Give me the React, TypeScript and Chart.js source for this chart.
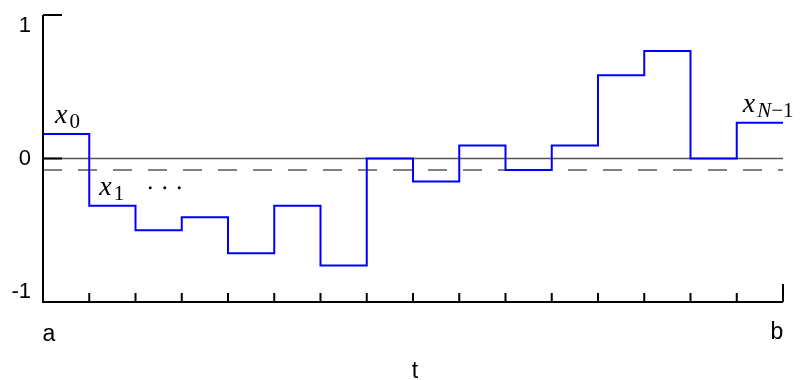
import React, { useEffect, useRef } from "react";
import { Chart, registerables } from "chart.js";

Chart.register(...registerables);

// step values x_0 ... x_{N-1}
const stepValues: number[] = [0.17, -0.33, -0.5, -0.41, -0.66, -0.33, -0.745, 0, -0.16, 0.09, -0.08, 0.09, 0.58, 0.75, 0, 0.25];
const meanLevel: number = -0.08;
const yTickValues: number[] = [1, 0, -1];
const yTickLabels: string[] = ["1", "0", "-1"];
const xEndLabels: string[] = ["a", "b"];
const xTitle = "t";

const SANS = '"Liberation Sans", Arial, sans-serif';
const SERIF = '"Liberation Serif", "DejaVu Serif", serif';

const axesPlugin = {
  id: "customAxes",
  afterDraw(chart: any) {
    const { ctx, scales } = chart;
    const xs = scales.x;
    const ys = scales.y;
    const n = stepValues.length;
    const left = xs.getPixelForValue(0);
    const right = xs.getPixelForValue(n);
    const top = ys.getPixelForValue(1);
    const bottom = ys.getPixelForValue(-1);
    ctx.save();
    ctx.strokeStyle = "#000";
    ctx.lineWidth = 2;
    ctx.lineCap = "butt";
    // axes lines
    ctx.beginPath();
    ctx.moveTo(left, top);
    ctx.lineTo(left, bottom);
    ctx.lineTo(right, bottom);
    ctx.stroke();
    // y ticks (inward)
    yTickValues.forEach((v) => {
      const y = ys.getPixelForValue(v);
      ctx.beginPath();
      ctx.moveTo(left, y);
      ctx.lineTo(left + 19, y);
      ctx.stroke();
    });
    // x ticks
    for (let i = 1; i <= n; i++) {
      const x = xs.getPixelForValue(i);
      const len = i === n ? 18 : 9;
      ctx.beginPath();
      ctx.moveTo(x, bottom);
      ctx.lineTo(x, bottom - len);
      ctx.stroke();
    }
    // y labels
    ctx.fillStyle = "#000";
    ctx.font = `22px ${SANS}`;
    ctx.textAlign = "right";
    ctx.textBaseline = "middle";
    const yOffsets = [11, 0, -10];
    yTickValues.forEach((v, i) => {
      const y = ys.getPixelForValue(v) + yOffsets[i];
      ctx.fillText(yTickLabels[i], left - 12, y);
    });
    // x end labels
    ctx.font = `23px ${SANS}`;
    ctx.textAlign = "center";
    ctx.fillText(xEndLabels[0], left + 6, bottom + 33);
    ctx.fillText(xEndLabels[1], right - 6, bottom + 31);
    ctx.fillText(xTitle, xs.getPixelForValue(n / 2) + 2, bottom + 70);

    // math labels
    const drawSub = (x: number, yBase: number, main: string, sub: string, subItalic: boolean, rest?: string) => {
      ctx.textAlign = "left";
      ctx.textBaseline = "alphabetic";
      ctx.font = `italic 28px ${SERIF}`;
      ctx.fillText(main, x, yBase);
      const w = ctx.measureText(main).width;
      ctx.font = `${subItalic ? "italic " : ""}21px ${SERIF}`;
      ctx.fillText(sub, x + w + 2, yBase + 5);
      if (rest) {
        const w2 = ctx.measureText(sub).width;
        ctx.font = `21px ${SERIF}`;
        ctx.fillText(rest, x + w + 2 + w2, yBase + 5);
      }
    };
    drawSub(xs.getPixelForValue(0) + 12, ys.getPixelForValue(stepValues[0]) - 11, "x", "0", false);
    drawSub(xs.getPixelForValue(1) + 10, ys.getPixelForValue(stepValues[1]) - 11, "x", "1", false);
    // dots
    ctx.beginPath();
    const dotY = ys.getPixelForValue(stepValues[1]) - 18;
    [0, 1, 2].forEach((k) => {
      const x = xs.getPixelForValue(1) + 61 + k * 14.5;
      ctx.moveTo(x + 1.5, dotY);
      ctx.arc(x, dotY, 1.5, 0, Math.PI * 2);
    });
    ctx.fill();
    drawSub(xs.getPixelForValue(n - 1) + 6, ys.getPixelForValue(stepValues[n - 1]) - 11, "x", "N", true, "\u22121");
    ctx.restore();
  },
};

export default function App() {
  const ref = useRef<HTMLCanvasElement | null>(null);
  useEffect(() => {
    if (!ref.current) return;
    const n = stepValues.length;
    const stepData = stepValues.map((v, i) => ({ x: i, y: v }));
    stepData.push({ x: n, y: stepValues[n - 1] });
    const chart = new Chart(ref.current, {
      type: "line",
      data: {
        datasets: [
          {
            data: stepData,
            borderColor: "#0000ff",
            borderWidth: 2,
            stepped: "before",
            pointRadius: 0,
            fill: false,
          },
          {
            data: [{ x: 0, y: 0 }, { x: n, y: 0 }],
            borderColor: "#555555",
            borderWidth: 1.5,
            pointRadius: 0,
            fill: false,
          },
          {
            data: [{ x: 0, y: meanLevel }, { x: n, y: meanLevel }],
            borderColor: "#808080",
            borderWidth: 2,
            borderDash: [19, 16],
            pointRadius: 0,
            fill: false,
          },
        ],
      },
      options: {
        responsive: false,
        animation: false,
        layout: { padding: { left: 43, top: 15, right: 26, bottom: 78 } },
        plugins: { legend: { display: false }, tooltip: { enabled: false } },
        scales: {
          x: { type: "linear", min: 0, max: n, display: false },
          y: { type: "linear", min: -1, max: 1, display: false },
        },
      },
      plugins: [axesPlugin],
    });
    return () => chart.destroy();
  }, []);
  return (
    <div style={{ position: "fixed", left: 0, top: 0, width: 809, height: 380, background: "#fff" }}>
      <canvas ref={ref} width={809} height={380} style={{ width: 809, height: 380 }} />
    </div>
  );
}
